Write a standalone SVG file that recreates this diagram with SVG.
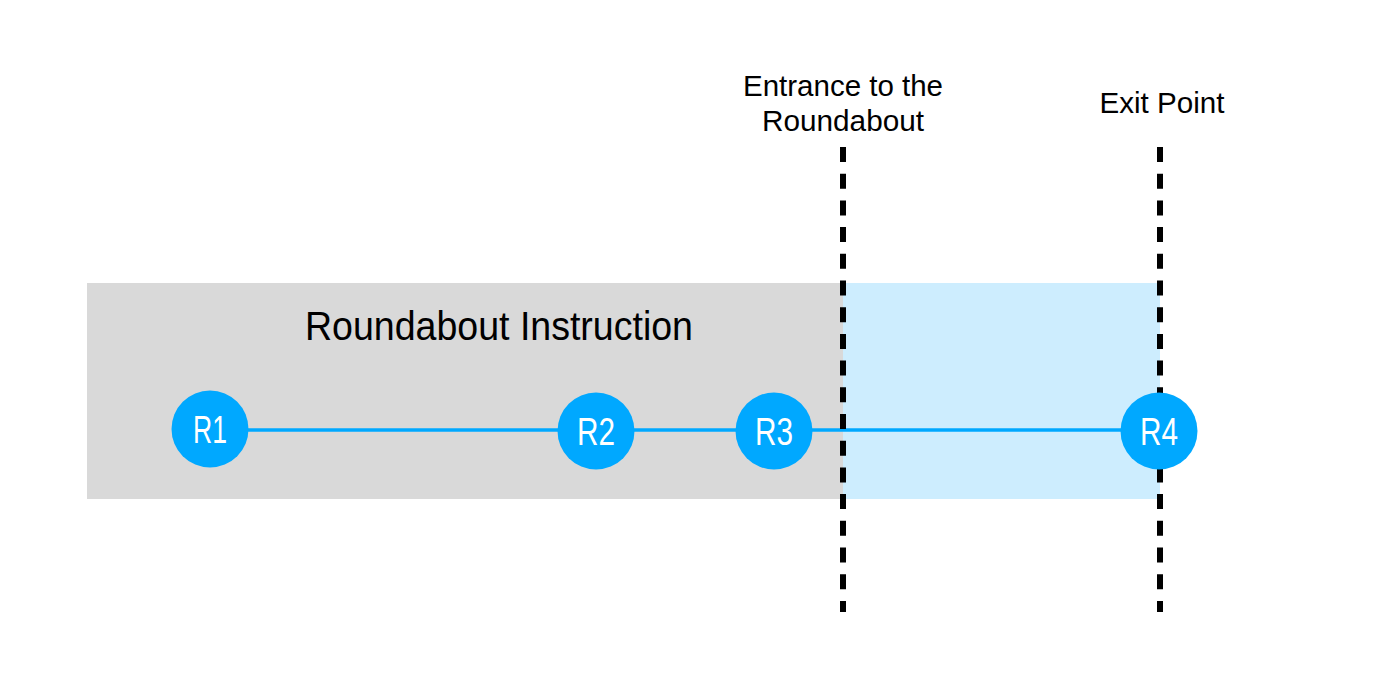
<svg xmlns="http://www.w3.org/2000/svg" width="1374" height="696" viewBox="0 0 1374 696">
<style>
.lbl{font-family:"Liberation Sans","DejaVu Sans",sans-serif;fill:#000;text-anchor:middle}
.node circle{fill:#00a8ff}
.node text{font-family:"Liberation Sans","DejaVu Sans",sans-serif;font-size:39px;fill:#fff;text-anchor:middle}
.dash{stroke:#000;stroke-width:6;stroke-dasharray:15 11.7;fill:none}
.link{stroke:#00a8ff;stroke-width:3.5;fill:none}
</style>
<rect width="1374" height="696" fill="#fff"/>
<g id="zone-instruction">
<rect x="87" y="283" width="756" height="216" fill="#d9d9d9"/>
<text class="lbl" x="499" y="340" font-size="40" textLength="388" lengthAdjust="spacingAndGlyphs">Roundabout Instruction</text>
</g>
<g id="zone-roundabout">
<rect x="843" y="283" width="317" height="216" fill="#cdedfe"/>
</g>
<g id="connectors">
<line class="link" x1="210" y1="430" x2="1159" y2="430"/>
</g>
<g id="entrance">
<line class="dash" x1="843" y1="147" x2="843" y2="612"/>
<text class="lbl" x="843" y="96" font-size="30" textLength="200" lengthAdjust="spacingAndGlyphs">Entrance to the</text>
<text class="lbl" x="843" y="131" font-size="30" textLength="162" lengthAdjust="spacingAndGlyphs">Roundabout</text>
</g>
<g id="exit">
<line class="dash" x1="1160" y1="147" x2="1160" y2="612"/>
<text class="lbl" x="1162" y="113" font-size="30" textLength="125" lengthAdjust="spacingAndGlyphs">Exit Point</text>
</g>
<g id="R1" class="node"><circle cx="210" cy="429" r="38.5"/><text x="210" y="443" textLength="34" lengthAdjust="spacingAndGlyphs">R1</text></g>
<g id="R2" class="node"><circle cx="596" cy="431" r="38.5"/><text x="596" y="445" textLength="38" lengthAdjust="spacingAndGlyphs">R2</text></g>
<g id="R3" class="node"><circle cx="774" cy="431" r="38.5"/><text x="774" y="445" textLength="38" lengthAdjust="spacingAndGlyphs">R3</text></g>
<g id="R4" class="node"><circle cx="1159" cy="431" r="38.5"/><text x="1159" y="445" textLength="38" lengthAdjust="spacingAndGlyphs">R4</text></g>
</svg>
